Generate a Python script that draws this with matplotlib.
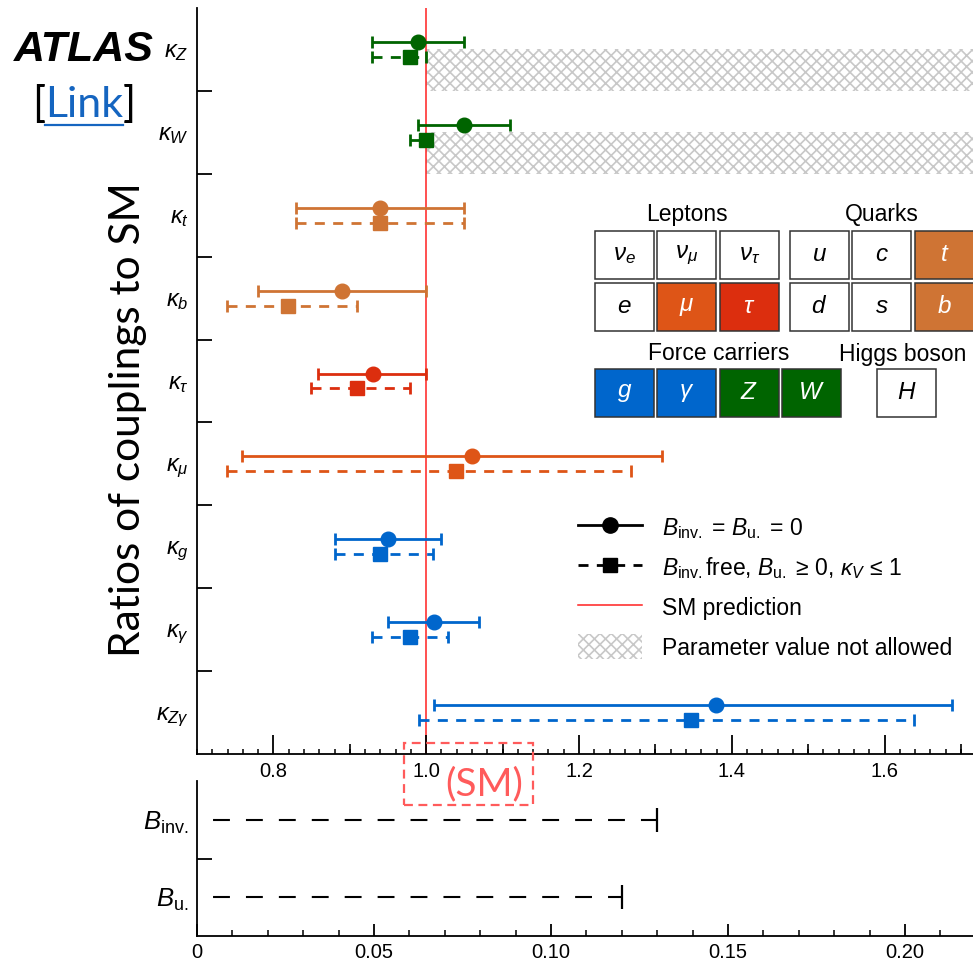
import numpy as np
import matplotlib.pyplot as plt
from matplotlib.lines import Line2D
from matplotlib.patches import Patch, Rectangle
from matplotlib.ticker import MultipleLocator, NullFormatter, FuncFormatter

# ---------------- fuentes ----------------
plt.rcParams['font.family'] = ['Liberation Sans', 'DejaVu Sans']
plt.rcParams['mathtext.fontset'] = 'custom'
plt.rcParams['mathtext.rm'] = 'Liberation Sans'
plt.rcParams['mathtext.it'] = 'Liberation Sans:italic'
plt.rcParams['mathtext.bf'] = 'Liberation Sans:bold'
plt.rcParams['hatch.linewidth'] = 1.2

# ---------------- datos ----------------
parametros = [r'$\kappa_Z$', r'$\kappa_W$', r'$\kappa_t$', r'$\kappa_b$', r'$\kappa_\tau$',
              r'$\kappa_\mu$', r'$\kappa_g$', r'$\kappa_\gamma$', r'$\kappa_{Z\gamma}$']
colores = ['#006400', '#006400', '#CF7434', '#CF7434', '#DC2E0E',
           '#DE5517', '#0066CC', '#0066CC', '#0066CC']

# B_inv = B_u = 0  (circulos, linea continua)
k1 = [0.989, 1.050, 0.940, 0.890, 0.930, 1.060, 0.950, 1.010, 1.379]
k1_lo = [0.929, 0.989, 0.830, 0.780, 0.859, 0.759, 0.880, 0.950, 1.010]
k1_hi = [1.050, 1.110, 1.050, 1.000, 1.000, 1.308, 1.020, 1.069, 1.688]

# B_inv libre, B_u >= 0, kappa_V <= 1  (cuadrados, linea discontinua)
k2 = [0.979, 1.000, 0.939, 0.819, 0.909, 1.039, 0.939, 0.979, 1.347]
k2_lo = [0.929, 0.979, 0.830, 0.739, 0.849, 0.739, 0.880, 0.929, 0.991]
k2_hi = [1.000, 1.000, 1.050, 0.909, 0.979, 1.268, 1.009, 1.029, 1.639]

# filas con region no permitida (kappa_V <= 1)
no_permitido = [0, 1]

# limites superiores de las fracciones de desintegracion
b_nombres = [r'$B_{\mathrm{inv.}}$', r'$B_{\mathrm{u.}}$']
b_limite = [0.13, 0.12]

# tabla de particulas
leptones = [[r'$\nu_e$', r'$\nu_\mu$', r'$\nu_\tau$'], [r'$e$', r'$\mu$', r'$\tau$']]
col_leptones = [['white', 'white', 'white'], ['white', '#DE5517', '#DC2E0E']]
quarks = [[r'$u$', r'$c$', r'$t$'], [r'$d$', r'$s$', r'$b$']]
col_quarks = [['white', 'white', '#CF7434'], ['white', 'white', '#CF7434']]
bosones = [r'$g$', r'$\gamma$', r'$Z$', r'$W$']
col_bosones = ['#0066CC', '#0066CC', '#006400', '#006400']

# ---------------- figura ----------------
W, H = 973, 961
fig = plt.figure(figsize=(W / 100, H / 100), dpi=100)


def fx(x):
    return x / W


def fy(y):
    return 1 - y / H


ax = fig.add_axes([fx(197), fy(754), 1 - fx(197), (754 - 8) / H])
ax2 = fig.add_axes([fx(197), fy(936), 1 - fx(197), (936 - 781) / H])

n = len(parametros)
xmax = 1.7157
gris = '#c8c8c8'

for i in range(n):
    y = n - 0.5 - i
    c = colores[i]
    ax.errorbar(k1[i], y + 0.09, xerr=[[k1[i] - k1_lo[i]], [k1_hi[i] - k1[i]]],
                fmt='o', color=c, ms=10.5, lw=2, capsize=4, capthick=2, zorder=3)
    eb = ax.errorbar(k2[i], y - 0.09, xerr=[[k2[i] - k2_lo[i]], [k2_hi[i] - k2[i]]],
                     fmt='s', color=c, ms=10, lw=2, capsize=4, capthick=2, zorder=3)
    eb[2][0].set_linestyle((0, (3.6, 3.0)))
    if i in no_permitido:
        ax.fill_betweenx([y - 0.5, y], 1.0, xmax + 1, facecolor='none', edgecolor=gris,
                         hatch='xxx', linewidth=0, zorder=0.5)

ax.axvline(1.0, color='#FF2020', lw=1.1, zorder=1.5)

ax.set_xlim(0.70, xmax)
ax.set_ylim(0, n)
ax.spines['top'].set_visible(False)
ax.spines['right'].set_visible(False)
for s in ['left', 'bottom']:
    ax.spines[s].set_linewidth(1.3)
    ax2.spines[s].set_linewidth(1.3)
ax.xaxis.set_major_locator(MultipleLocator(0.2))
ax.xaxis.set_minor_locator(MultipleLocator(0.02))
ax.xaxis.set_major_formatter(FuncFormatter(lambda v, p: f'{v:.1f}'))
ax.tick_params(axis='x', which='major', direction='in', length=14, width=1.3,
               labelsize=14.5, pad=6)
ax.tick_params(axis='x', which='minor', direction='in', length=3.6, width=1.1)

# ticks intermedios cada 0.1
sec = ax.secondary_xaxis('bottom')
sec.set_xticks(np.arange(0.9, 1.75, 0.2))
sec.xaxis.set_major_formatter(NullFormatter())
sec.tick_params(direction='in', length=7.2, width=1.2)
sec.spines['bottom'].set_visible(False)

ax.set_yticks(np.arange(1, n))
ax.yaxis.set_major_formatter(NullFormatter())
ax.set_yticks(np.arange(n) + 0.5, minor=True)
ax.set_yticklabels(parametros[::-1], minor=True)
ax.tick_params(axis='y', which='major', direction='in', length=11, width=1.3)
ax.tick_params(axis='y', which='minor', length=0, labelsize=17, pad=6)

# ---------------- panel inferior ----------------
m = len(b_nombres)
for j in range(m):
    y = m - 0.5 - j
    ax2.plot([0, b_limite[j]], [y, y], color='black', lw=1.5,
             linestyle=(8.1, (8.1, 7.7)))
    ax2.plot([b_limite[j]], [y], marker='|', color='black', ms=17, mew=1.6)

ax2.set_xlim(0, 0.2192)
ax2.set_ylim(0, m)
ax2.spines['top'].set_visible(False)
ax2.spines['right'].set_visible(False)
ax2.xaxis.set_major_locator(MultipleLocator(0.05))
ax2.xaxis.set_minor_locator(MultipleLocator(0.01))
ax2.xaxis.set_major_formatter(FuncFormatter(lambda v, p: '0' if abs(v) < 1e-9 else f'{v:.2f}'))
ax2.tick_params(axis='x', which='major', direction='in', length=8.6, width=1.3,
                labelsize=14.5, pad=5)
ax2.tick_params(axis='x', which='minor', direction='in', length=4.3, width=1.1)
ax2.set_yticks([1])
ax2.yaxis.set_major_formatter(NullFormatter())
ax2.set_yticks(np.arange(m) + 0.5, minor=True)
ax2.set_yticklabels(b_nombres[::-1], minor=True)
ax2.tick_params(axis='y', which='major', direction='in', length=11, width=1.3)
ax2.tick_params(axis='y', which='minor', length=0, labelsize=18.5, pad=6)

# ---------------- leyenda ----------------
h1 = Line2D([], [], color='black', lw=2, marker='o', ms=11)
h2 = Line2D([], [], color='black', lw=2, marker='s', ms=10.5, linestyle=(0, (3.6, 3.0)))
h3 = Line2D([], [], color='#FF2020', lw=1.1)
h4 = Patch(facecolor='none', edgecolor=gris, hatch='xxx', linewidth=0)
etiquetas = [r'$B_{\mathrm{inv.}}$ = $B_{\mathrm{u.}}$ = 0',
             r'$B_{\mathrm{inv.}}$free, $B_{\mathrm{u.}}$ ≥ 0, $\kappa_V$ ≤ 1',
             'SM prediction', 'Parameter value not allowed']
ax.legend([h1, h2, h3, h4], etiquetas, loc='center left',
          bbox_to_anchor=(fx(578), fy(587)), bbox_transform=fig.transFigure,
          frameon=False, fontsize=16.5, handlelength=2.8, handletextpad=0.85,
          labelspacing=0.62, borderpad=0, borderaxespad=0, handleheight=1.3)

# ---------------- tabla de particulas ----------------
cw, ch, paso = 59, 48, 62.4


def caja(x, y, color, texto):
    fig.patches.append(Rectangle((fx(x), fy(y + ch)), cw / W, ch / H, transform=fig.transFigure,
                                 facecolor=color, edgecolor='#333333', lw=1.1))
    fig.text(fx(x + cw / 2), fy(y + ch / 2), texto, ha='center', va='center', fontsize=17.5,
             color='black' if color == 'white' else 'white')


for r in range(2):
    for k in range(3):
        caja(595 + k * paso, 231 + r * 52, col_leptones[r][k], leptones[r][k])
        caja(790 + k * paso, 231 + r * 52, col_quarks[r][k], quarks[r][k])
for k in range(4):
    caja(595 + k * paso, 369, col_bosones[k], bosones[k])
caja(877, 369, 'white', r'$H$')

fig.text(fx(687), fy(214), 'Leptons', ha='center', va='center', fontsize=16.5)
fig.text(fx(882), fy(214), 'Quarks', ha='center', va='center', fontsize=16.5)
fig.text(fx(719), fy(354), 'Force carriers', ha='center', va='center', fontsize=16.5)
fig.text(fx(903), fy(354), 'Higgs boson', ha='center', va='center', fontsize=16.5)

# ---------------- textos ----------------
fig.text(fx(14), fy(50), 'ATLAS', fontsize=31, fontweight='bold', fontstyle='italic',
         ha='left', va='center')
fig.text(fx(128), fy(420), 'Ratios of couplings to SM', rotation=90, fontsize=30.5,
         family='Lato', ha='center', va='center')

link = fig.text(fx(84), fy(117), 'Link', fontsize=31, family='Lato', color='#1565C0',
                ha='center', va='baseline')
fig.canvas.draw()
bb = link.get_window_extent(fig.canvas.get_renderer())
fig.text(bb.x0 / W, fy(117), '[', fontsize=31, family='Lato', ha='right', va='baseline')
fig.text(bb.x1 / W, fy(117), ']', fontsize=31, family='Lato', ha='left', va='baseline')
fig.lines.append(Line2D([bb.x0 / W, bb.x1 / W], [fy(125), fy(125)], transform=fig.transFigure,
                        color='#1565C0', lw=1.6))

fig.patches.append(Rectangle((fx(404), fy(805)), (533 - 404) / W, (805 - 743) / H,
                             transform=fig.transFigure, facecolor='none', edgecolor='#FF5B5B',
                             lw=1.6, linestyle=(0, (4, 2.5))))
fig.text(fx(484), fy(784), '(SM)', fontsize=28, family='Lato', color='#FF5B5B',
         ha='center', va='center')

fig.savefig('out.png', dpi=100)
